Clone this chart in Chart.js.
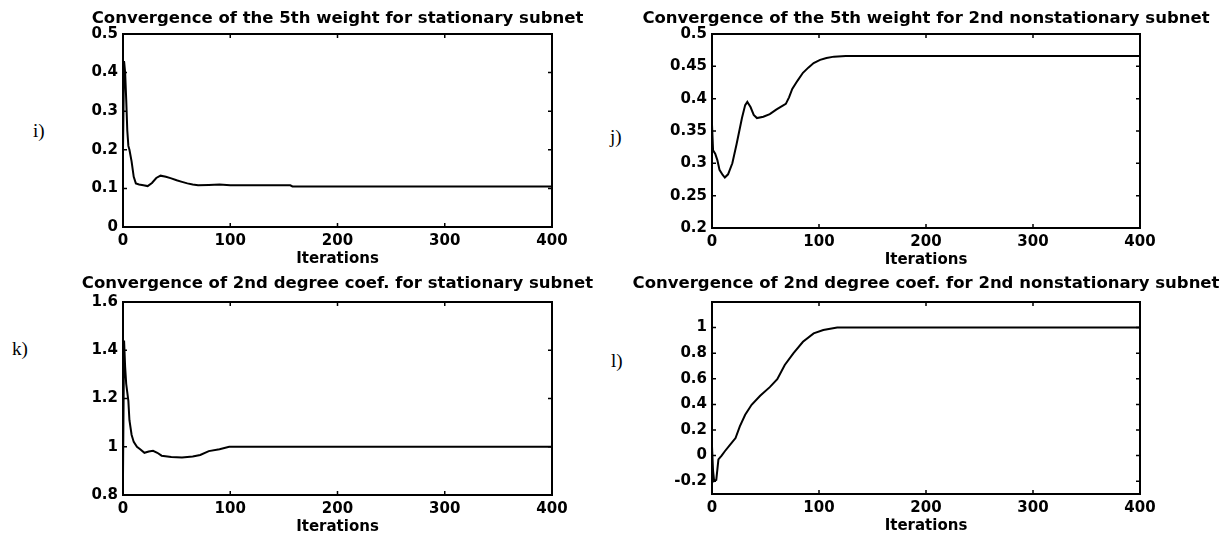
<!DOCTYPE html>
<html lang="en">
<head>
<meta charset="UTF-8">
<title>Convergence of weights and coefficients</title>
<script src="https://cdn.jsdelivr.net/npm/chart.js"></script>
<style>
  body { margin: 0; background: #fff; }
  #page { position: relative; width: 1232px; height: 536px; overflow: hidden; background: #fff; }
  #page canvas { position: absolute; }
  .tag { position: absolute; font-family: "Liberation Serif", "Times New Roman", serif; font-size: 19px; line-height: 1; color: #000; }
</style>
</head>
<body>
<div id="page">
  <div class="tag" style="left:33px;top:121px">i)</div>
  <div class="tag" style="left:610px;top:127px">j)</div>
  <div class="tag" style="left:12px;top:339px">k)</div>
  <div class="tag" style="left:611px;top:351px">l)</div>
</div>

<script>
  // 5th weight, stationary subnet
  const iterI = [0, 1, 2, 3, 4, 5, 6, 8, 10, 12, 15, 19, 23, 27, 31, 35, 40, 45, 50, 55, 60, 65, 70, 80, 90, 100, 120, 140, 156, 158, 200, 300, 400];
  const weightStat = [0.20, 0.43, 0.40, 0.33, 0.25, 0.21, 0.20, 0.17, 0.13, 0.113, 0.11, 0.108, 0.106, 0.114, 0.127, 0.133, 0.130, 0.126, 0.121, 0.117, 0.113, 0.110, 0.108, 0.109, 0.110, 0.108, 0.108, 0.108, 0.108, 0.105, 0.105, 0.105, 0.105];

  // 5th weight, 2nd nonstationary subnet
  const iterJ = [0, 1, 3, 5, 7, 10, 12, 15, 19, 23, 28, 31, 33, 36, 39, 42, 48, 54, 60, 65, 69, 72, 75, 80, 85, 90, 95, 101, 107, 114, 125, 135, 200, 300, 400];
  const weightNonstat = [0.36, 0.32, 0.315, 0.305, 0.29, 0.282, 0.278, 0.283, 0.30, 0.33, 0.37, 0.39, 0.395, 0.387, 0.375, 0.370, 0.372, 0.376, 0.383, 0.388, 0.392, 0.402, 0.415, 0.428, 0.440, 0.448, 0.455, 0.460, 0.463, 0.465, 0.466, 0.466, 0.466, 0.466, 0.466];

  // 2nd degree coefficient, stationary subnet
  const iterK = [0, 1, 2, 3, 5, 6, 8, 10, 13, 16, 20, 24, 28, 32, 36, 45, 55, 65, 72, 80, 90, 99, 200, 300, 400];
  const coefStat = [0.88, 1.44, 1.33, 1.26, 1.19, 1.11, 1.05, 1.02, 1.0, 0.99, 0.975, 0.98, 0.983, 0.975, 0.963, 0.958, 0.955, 0.96, 0.966, 0.982, 0.99, 1.0, 1.0, 1.0, 1.0];

  // 2nd degree coefficient, 2nd nonstationary subnet
  const iterL = [0, 1, 2, 4, 6, 9, 12, 17, 22, 26, 31, 37, 45, 54, 61, 68, 76, 85, 95, 104, 117, 160, 200, 300, 400];
  const coefNonstat = [0.07, -0.12, -0.20, -0.19, -0.03, 0.0, 0.034, 0.086, 0.137, 0.228, 0.319, 0.397, 0.467, 0.535, 0.597, 0.708, 0.799, 0.889, 0.955, 0.981, 1.0, 1.0, 1.0, 1.0, 1.0];

  const xTicks = [0, 100, 200, 300, 400];
  const yTicksI = [0, 0.1, 0.2, 0.3, 0.4, 0.5];
  const yTicksJ = [0.2, 0.25, 0.3, 0.35, 0.4, 0.45, 0.5];
  const yTicksK = [0.8, 1, 1.2, 1.4, 1.6];
  const yTicksL = [-0.2, 0, 0.2, 0.4, 0.6, 0.8, 1];

  const FONT = "'DejaVu Sans', Arial, sans-serif";
  // same width for the tick axis on the left and an empty spacer axis on the right,
  // so the title is centred over the plot box
  const YW = 85, XH = 45, TICK = 4;

  // box around the plot with matlab-style inward ticks on all four sides
  const boxTicks = {
    id: 'boxTicks',
    afterDatasetsDraw(chart) {
      const { ctx, chartArea: a, scales: { x, y } } = chart;
      ctx.save();
      ctx.strokeStyle = '#000';
      ctx.lineWidth = 1.5;
      ctx.beginPath();
      x.ticks.forEach(t => {
        const px = x.getPixelForValue(t.value);
        ctx.moveTo(px, a.bottom); ctx.lineTo(px, a.bottom - TICK);
        ctx.moveTo(px, a.top); ctx.lineTo(px, a.top + TICK);
      });
      y.ticks.forEach(t => {
        const py = y.getPixelForValue(t.value);
        ctx.moveTo(a.left, py); ctx.lineTo(a.left + TICK, py);
        ctx.moveTo(a.right, py); ctx.lineTo(a.right - TICK, py);
      });
      ctx.stroke();
      ctx.lineWidth = 2;
      ctx.strokeRect(a.left, a.top, a.right - a.left, a.bottom - a.top);
      ctx.restore();
    }
  };

  const panels = [
    { title: 'Convergence of the 5th weight for stationary subnet', iters: iterI, values: weightStat,
      yMin: 0, yMax: 0.5, yTicks: yTicksI, box: [123, 34, 552, 227], gap: 15 },
    { title: 'Convergence of the 5th weight for 2nd nonstationary subnet', iters: iterJ, values: weightNonstat,
      yMin: 0.2, yMax: 0.5, yTicks: yTicksJ, box: [712, 34, 1140, 228], gap: 15 },
    { title: 'Convergence of 2nd degree coef. for stationary subnet', iters: iterK, values: coefStat,
      yMin: 0.8, yMax: 1.6, yTicks: yTicksK, box: [123, 302, 552, 495], gap: 18 },
    { title: 'Convergence of 2nd degree coef. for 2nd nonstationary subnet', iters: iterL, values: coefNonstat,
      yMin: -0.3, yMax: 1.2, yTicks: yTicksL, box: [712, 302, 1140, 494], gap: 18 }
  ];

  function drawPanel(p) {
    const [left, top, right, bottom] = p.box;
    const padBottom = p.gap - 10;
    const titleH = 4 + 20 + padBottom;

    const canvas = document.createElement('canvas');
    canvas.width = right - left + 2 * YW;
    canvas.height = bottom - top + titleH + XH;
    canvas.style.left = (left - YW) + 'px';
    canvas.style.top = (top - titleH) + 'px';
    document.getElementById('page').appendChild(canvas);

    new Chart(canvas, {
      type: 'line',
      data: {
        datasets: [{
          data: p.iters.map((it, i) => ({ x: it, y: p.values[i] })),
          borderColor: '#000',
          borderWidth: 2,
          pointRadius: 0,
          tension: 0,
          fill: false
        }]
      },
      options: {
        responsive: false,
        devicePixelRatio: 1,
        animation: false,
        events: [],
        layout: { padding: 0 },
        plugins: {
          legend: { display: false },
          tooltip: { enabled: false },
          title: {
            display: true,
            text: p.title,
            color: '#000',
            font: { family: FONT, size: 16.5, weight: 'bold', lineHeight: '20px' },
            padding: { top: 4, bottom: padBottom }
          }
        },
        scales: {
          x: {
            type: 'linear',
            min: 0,
            max: 400,
            grid: { display: false, drawTicks: false, tickLength: 0 },
            border: { display: false },
            afterBuildTicks: s => { s.ticks = xTicks.map(v => ({ value: v })); },
            afterFit: s => { s.height = XH; },
            ticks: { color: '#000', padding: 5, maxRotation: 0, font: { family: FONT, size: 15, weight: 'bold' } },
            title: {
              display: true,
              text: 'Iterations',
              color: '#000',
              font: { family: FONT, size: 15, weight: 'bold', lineHeight: 1.2 },
              padding: { top: 0, bottom: 4 }
            }
          },
          y: {
            min: p.yMin,
            max: p.yMax,
            grid: { display: false, drawTicks: false, tickLength: 0 },
            border: { display: false },
            afterBuildTicks: s => { s.ticks = p.yTicks.map(v => ({ value: v })); },
            afterFit: s => { s.width = YW; },
            ticks: { color: '#000', padding: 5, callback: v => String(v), font: { family: FONT, size: 15, weight: 'bold' } }
          },
          spacer: {
            position: 'right',
            min: p.yMin,
            max: p.yMax,
            grid: { display: false, drawTicks: false },
            border: { display: false },
            ticks: { display: false },
            afterFit: s => { s.width = YW; }
          }
        }
      },
      plugins: [boxTicks]
    });
  }

  panels.forEach(drawPanel);
</script>
</body>
</html>
